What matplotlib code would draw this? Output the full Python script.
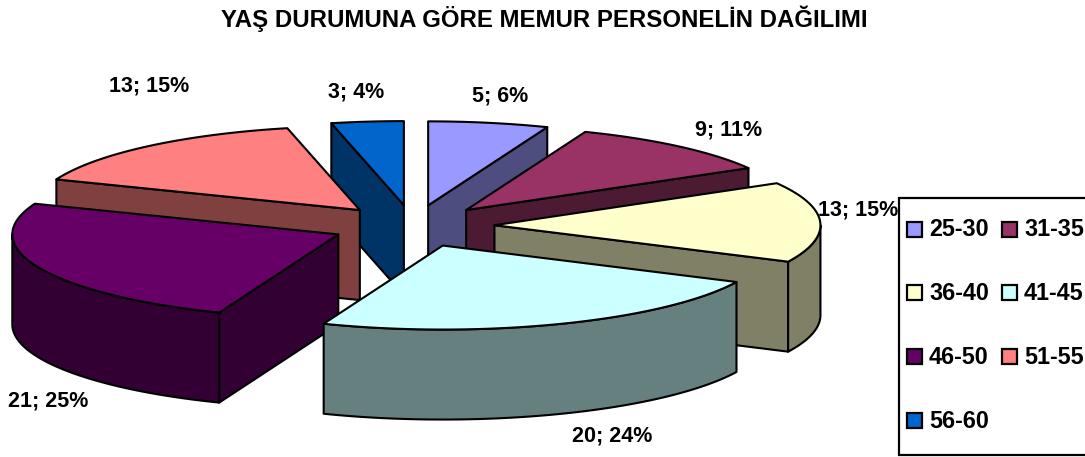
import numpy as np
import matplotlib
matplotlib.use("Agg")
import matplotlib.pyplot as plt
from matplotlib.patches import Polygon, Rectangle

plt.rcParams['font.family'] = ['Liberation Sans', 'DejaVu Sans']

# data
title = "YAŞ DURUMUNA GÖRE MEMUR PERSONELİN DAĞILIMI"
categories = ["25-30", "31-35", "36-40", "41-45", "46-50", "51-55", "56-60"]
values = [5, 9, 13, 20, 21, 13, 3]
percents = [6, 11, 15, 24, 25, 15, 4]
top_colors = ["#9999FF", "#993366", "#FFFFCC", "#CCFFFF", "#660066", "#FF8080", "#0066CC"]
side_colors = ["#4D4D80", "#4D1A33", "#808066", "#668080", "#330033", "#804040", "#003366"]

# label centres in pixels
label_pos = [(500, 96), (729, 130), (858, 210), (612, 436), (48, 401), (149, 86), (356, 92)]
legend_rows = [230, 293, 357, 421]
legend_cols = [907, 1002]

# pie geometry in pixels
cx, cy = 413, 226
rx, ry = 326, 84
explode = 0.25
depth = 90

fig = plt.figure(figsize=(10.85, 4.57), dpi=100)
ax = fig.add_axes([0, 0, 1, 1])
ax.set_xlim(0, 1085)
ax.set_ylim(457, 0)
ax.axis("off")

lw = 1.5


def pt(t, ox, oy):
    return np.column_stack([ox + rx * np.sin(t), oy - ry * np.cos(t)])


edges = np.cumsum([0] + values) / sum(values) * 2 * np.pi
wedges = []
for i in range(len(values)):
    mid = (edges[i] + edges[i + 1]) / 2
    ox = cx + explode * rx * np.sin(mid)
    oy = cy - explode * ry * np.cos(mid)
    wedges.append((oy, i, ox, edges[i], edges[i + 1]))

# back wedges first
for oy, i, ox, a, b in sorted(wedges, key=lambda w: w[0]):
    arc = pt(np.linspace(a, b, 80), ox, oy)
    apex = np.array([[ox, oy]])
    down = np.array([0, depth])

    # cut faces, only the ones turned towards the viewer
    if np.sin(a) < -1e-6:
        face = np.vstack([apex, arc[:1], arc[:1] + down, apex + down])
        ax.add_patch(Polygon(face, fc=side_colors[i], ec="black", lw=lw, joinstyle="round"))
    if np.sin(b) > 1e-6:
        face = np.vstack([apex, arc[-1:], arc[-1:] + down, apex + down])
        ax.add_patch(Polygon(face, fc=side_colors[i], ec="black", lw=lw, joinstyle="round"))

    # outer wall, only the part facing the viewer
    t0, t1 = max(a, np.pi / 2), min(b, 3 * np.pi / 2)
    if t1 > t0:
        front = pt(np.linspace(t0, t1, 80), ox, oy)
        wall = np.vstack([front, (front + down)[::-1]])
        ax.add_patch(Polygon(wall, fc=side_colors[i], ec="black", lw=lw, joinstyle="round"))

    ax.add_patch(Polygon(np.vstack([apex, arc]), fc=top_colors[i], ec="black", lw=lw, joinstyle="round"))

ax.text(544, 19, title, ha="center", va="center", fontsize=17.3, fontweight="bold")

for (x, y), v, p in zip(label_pos, values, percents):
    ax.text(x, y, f"{v}; {p}%", ha="center", va="center", fontsize=15.5, fontweight="bold", zorder=5)

# legend box runs off the right edge
ax.add_patch(Rectangle((899, 198), 200, 257, fc="white", ec="black", lw=1.6, zorder=6))
for i, name in enumerate(categories):
    x = legend_cols[i % 2]
    y = legend_rows[i // 2]
    ax.add_patch(Rectangle((x, y - 8), 15, 15, fc=top_colors[i], ec="black", lw=1.6, zorder=7))
    ax.text(x + 22, y, name, ha="left", va="center", fontsize=16.8, fontweight="bold", zorder=7)

fig.savefig("out.png", dpi=100)
